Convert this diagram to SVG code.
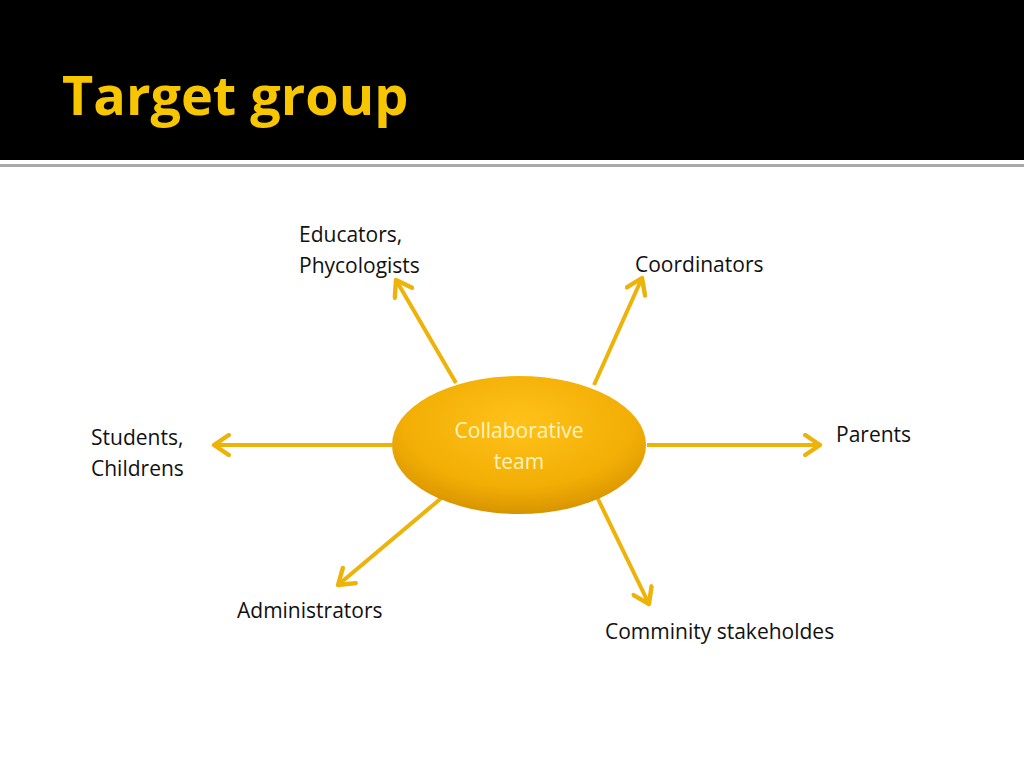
<svg xmlns="http://www.w3.org/2000/svg" width="1024" height="768" viewBox="0 0 1024 768">
<defs>
<radialGradient id="eg" cx="50%" cy="35%" r="65%">
<stop offset="0" stop-color="#FFC21A"/><stop offset="0.7" stop-color="#F2AE05"/><stop offset="1" stop-color="#D89400"/>
</radialGradient>
<marker id="ah" markerWidth="6" markerHeight="6" refX="4.5" refY="3" orient="auto" markerUnits="strokeWidth">
<path d="M0.8,0.5 L4.5,3 L0.8,5.5" fill="none" stroke="#EDB309" stroke-width="1.1" stroke-linecap="round" stroke-linejoin="round"/>
</marker>
</defs>
<style>
.lbl{font-family:"Open Sans","Liberation Sans",sans-serif;font-size:21px;fill:#111}
.ar{stroke:#EDB309;stroke-width:4;fill:none;marker-end:url(#ah)}
</style>
<rect width="1024" height="768" fill="#fff"/>
<rect width="1024" height="160" fill="#000"/>
<rect y="164" width="1024" height="3" fill="#a8a8a8"/>
<text x="62" y="115" font-family="'Open Sans','Liberation Sans',sans-serif" font-weight="bold" font-size="54" fill="#F7C600">Target group</text>
<g id="connectors">
<line class="ar" x1="456" y1="383" x2="396" y2="280"/>
<line class="ar" x1="594" y1="385" x2="642" y2="278"/>
<line class="ar" x1="392" y1="445" x2="214" y2="445"/>
<line class="ar" x1="647" y1="445" x2="820" y2="445"/>
<line class="ar" x1="445" y1="495" x2="338" y2="585"/>
<line class="ar" x1="597" y1="497" x2="649" y2="604"/>
</g>
<g id="center">
<ellipse cx="519" cy="445" rx="127" ry="69" fill="url(#eg)"/>
<text x="519" y="438" text-anchor="middle" font-family="'Open Sans','Liberation Sans',sans-serif" font-size="21" fill="#FFF3C0">Collaborative</text>
<text x="519" y="469" text-anchor="middle" font-family="'Open Sans','Liberation Sans',sans-serif" font-size="21" fill="#FFF3C0">team</text>
</g>
<g id="educators"><text class="lbl" x="299" y="242">Educators,</text><text class="lbl" x="299" y="273">Phycologists</text></g>
<g id="coordinators"><text class="lbl" x="635" y="272">Coordinators</text></g>
<g id="students"><text class="lbl" x="91" y="445">Students,</text><text class="lbl" x="91" y="476">Childrens</text></g>
<g id="parents"><text class="lbl" x="836" y="442">Parents</text></g>
<g id="administrators"><text class="lbl" x="237" y="618">Administrators</text></g>
<g id="community"><text class="lbl" x="605" y="639">Comminity stakeholdes</text></g>
</svg>
